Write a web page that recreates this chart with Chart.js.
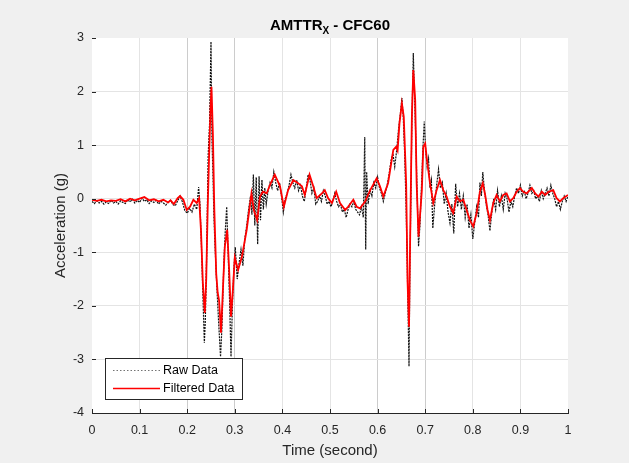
<!DOCTYPE html>
<html>
<head>
<meta charset="utf-8">
<script src="https://cdn.jsdelivr.net/npm/chart.js@4.4.1/dist/chart.umd.min.js"></script>
<style>
  html, body { margin: 0; padding: 0; background: #f0f0f0; }
  canvas { display: block; }
</style>
</head>
<body>
<canvas id="c" width="629" height="463"></canvas>
<script>
// ---------------------------------------------------------------
// DATA
// ---------------------------------------------------------------
const xTickLabels = ["0", "0.1", "0.2", "0.3", "0.4", "0.5", "0.6", "0.7", "0.8", "0.9", "1"];
const yTickLabels = ["-4", "-3", "-2", "-1", "0", "1", "2", "3"];

// filtered data (CFC60)
const filtT = [0, 0.01, 0.02, 0.03, 0.04, 0.05, 0.06, 0.07, 0.08, 0.09, 0.1, 0.11, 0.12, 0.13, 0.14, 0.15, 0.16, 0.165, 0.172, 0.18,
  0.185, 0.192, 0.199, 0.206, 0.213, 0.22, 0.225, 0.229, 0.233, 0.237, 0.24, 0.243, 0.246, 0.249, 0.251, 0.254, 0.257, 0.261, 0.264, 0.267,
  0.271, 0.275, 0.279, 0.284, 0.288, 0.292, 0.296, 0.3, 0.307, 0.315, 0.325, 0.335, 0.34, 0.347, 0.353, 0.359, 0.367, 0.374, 0.384, 0.395,
  0.403, 0.412, 0.423, 0.433, 0.441, 0.447, 0.457, 0.465, 0.472, 0.483, 0.489, 0.496, 0.504, 0.513, 0.521, 0.532, 0.538, 0.549, 0.556, 0.563,
  0.574, 0.584, 0.598, 0.605, 0.612, 0.622, 0.633, 0.639, 0.642, 0.646, 0.651, 0.655, 0.66, 0.663, 0.666, 0.669, 0.672, 0.675, 0.679, 0.682,
  0.686, 0.689, 0.693, 0.696, 0.7, 0.703, 0.71, 0.717, 0.724, 0.731, 0.738, 0.745, 0.752, 0.759, 0.766, 0.773, 0.78, 0.787, 0.794, 0.801,
  0.808, 0.815, 0.821, 0.826, 0.831, 0.836, 0.843, 0.85, 0.857, 0.864, 0.871, 0.878, 0.885, 0.892, 0.899, 0.906, 0.913, 0.924, 0.931, 0.938,
  0.945, 0.952, 0.959, 0.969, 0.976, 0.983, 0.99, 1.0];
const filtV = [-0.02, -0.04, -0.02, -0.05, -0.03, -0.04, -0.01, -0.05, 0.0, -0.03, 0.0, 0.03, -0.03, -0.01, -0.05, -0.02, -0.07, -0.03, -0.1, 0.01,
  0.05, -0.02, -0.21, -0.15, -0.02, -0.08, 0.01, -0.6, -1.6, -2.13, -1.5, -0.2, 0.8, 1.7, 2.09, 1.2, -0.2, -1.4, -1.75, -1.9,
  -2.5, -1.7, -0.9, -0.58, -1.3, -2.2, -1.7, -1.1, -1.33, -1.08, -0.58, 0.1, -0.21, -0.4, 0.04, 0.13, 0.1, 0.26, 0.45, 0.23,
  -0.15, 0.16, 0.35, 0.29, 0.23, 0.07, 0.45, 0.23, 0.01, 0.1, 0.16, 0.01, -0.08, 0.13, -0.08, -0.21, -0.15, -0.02, -0.15, -0.18,
  -0.05, 0.15, 0.38, 0.23, 0.04, 0.29, 0.91, 0.97, 0.9, 1.41, 1.78, 1.53, 0.29, -1.57, -2.39, -0.33, 1.53, 2.4, 1.84, 0.29,
  -0.71, -0.33, 0.16, 0.97, 1.03, 0.78, 0.29, -0.08, 0.16, 0.35, 0.16, 0.04, -0.15, -0.27, 0.04, -0.05, -0.02, -0.21, -0.4, -0.52,
  -0.27, 0.13, 0.29, 0.07, -0.21, -0.4, -0.08, 0.07, -0.05, 0.07, 0.1, -0.05, 0.01, 0.13, 0.2, 0.13, 0.1, 0.2, 0.1, 0.04,
  0.13, 0.07, 0.13, 0.16, 0.01, -0.05, 0.01, 0.07];

// raw data
const rawT = [0, 0.005, 0.01, 0.015, 0.02, 0.025, 0.03, 0.035, 0.04, 0.045, 0.05, 0.055, 0.06, 0.065, 0.07, 0.075, 0.08, 0.085, 0.09, 0.095,
  0.1, 0.105, 0.11, 0.115, 0.12, 0.125, 0.13, 0.135, 0.14, 0.145, 0.15, 0.155, 0.16, 0.165, 0.17, 0.175, 0.18, 0.185, 0.19, 0.195,
  0.2, 0.205, 0.21, 0.215, 0.22, 0.224, 0.227, 0.23, 0.233, 0.236, 0.238, 0.241, 0.244, 0.247, 0.25, 0.252, 0.254, 0.256, 0.258, 0.262,
  0.266, 0.27, 0.273, 0.277, 0.28, 0.283, 0.286, 0.289, 0.292, 0.295, 0.298, 0.301, 0.305, 0.309, 0.313, 0.317, 0.321, 0.325, 0.329, 0.333,
  0.336, 0.339, 0.342, 0.345, 0.348, 0.351, 0.354, 0.357, 0.36, 0.363, 0.366, 0.37, 0.374, 0.378, 0.382, 0.386, 0.39, 0.394, 0.398, 0.402,
  0.406, 0.41, 0.414, 0.418, 0.422, 0.426, 0.43, 0.434, 0.438, 0.442, 0.446, 0.45, 0.454, 0.458, 0.462, 0.466, 0.47, 0.474, 0.478, 0.482,
  0.486, 0.49, 0.494, 0.498, 0.502, 0.506, 0.51, 0.514, 0.518, 0.522, 0.526, 0.53, 0.534, 0.538, 0.542, 0.546, 0.55, 0.554, 0.558, 0.562,
  0.566, 0.57, 0.573, 0.575, 0.577, 0.58, 0.584, 0.588, 0.592, 0.596, 0.6, 0.604, 0.608, 0.612, 0.616, 0.62, 0.624, 0.628, 0.632, 0.636,
  0.64, 0.644, 0.648, 0.651, 0.654, 0.657, 0.66, 0.663, 0.666, 0.668, 0.67, 0.672, 0.675, 0.677, 0.68, 0.683, 0.686, 0.689, 0.692, 0.695,
  0.698, 0.701, 0.704, 0.707, 0.71, 0.713, 0.716, 0.72, 0.724, 0.728, 0.732, 0.736, 0.74, 0.744, 0.748, 0.752, 0.756, 0.76, 0.764, 0.768,
  0.772, 0.776, 0.78, 0.784, 0.788, 0.792, 0.796, 0.8, 0.804, 0.808, 0.812, 0.815, 0.818, 0.821, 0.824, 0.828, 0.832, 0.836, 0.84, 0.844,
  0.848, 0.852, 0.856, 0.86, 0.864, 0.868, 0.872, 0.876, 0.88, 0.884, 0.888, 0.892, 0.896, 0.9, 0.904, 0.908, 0.912, 0.916, 0.92, 0.924,
  0.928, 0.932, 0.936, 0.94, 0.944, 0.948, 0.952, 0.956, 0.96, 0.964, 0.968, 0.972, 0.976, 0.98, 0.984, 0.988, 0.992, 0.996, 1.0];
const rawV = [-0.05, -0.09, -0.04, -0.08, -0.05, -0.10, -0.06, -0.09, -0.03, -0.08, -0.05, -0.10, -0.04, -0.07, -0.09, -0.02, -0.06, -0.01, -0.08, -0.03,
  -0.07, 0.01, -0.05, -0.02, -0.09, -0.04, -0.07, -0.03, -0.10, -0.05, -0.08, -0.12, -0.06, -0.03, -0.11, -0.13, -0.04, 0.05, -0.06, -0.22,
  -0.27, -0.18, -0.25, -0.10, -0.20, 0.22, -0.12, -0.90, -1.80, -2.69, -2.30, -1.00, 0.80, 1.40, 2.93, 1.10, 0.50, -0.30, -0.80, -1.60,
  -2.30, -2.95, -2.40, -1.20, -0.60, -0.15, -1.00, -1.90, -2.95, -2.00, -1.30, -0.90, -1.50, -1.20, -0.95, -1.25, -0.75, -0.50, -0.20, 0.05,
  -0.30, 0.45, -0.50, 0.40, -0.85, 0.42, -0.40, 0.35, -0.20, 0.20, -0.10, 0.15, 0.30, 0.20, 0.50, 0.30, 0.15, 0.30, 0.05, -0.25,
  0.00, 0.10, 0.25, 0.45, 0.30, 0.20, 0.35, 0.15, 0.25, 0.05, -0.05, 0.20, 0.45, 0.35, 0.10, 0.20, -0.10, -0.05, 0.05, -0.05,
  0.15, 0.05, -0.10, -0.05, -0.15, -0.05, 0.10, -0.05, -0.15, -0.10, -0.25, -0.20, -0.35, -0.20, -0.10, -0.15, -0.05, -0.20, -0.25, -0.30,
  -0.15, -0.35, 1.15, -0.95, 0.50, -0.10, 0.15, 0.05, 0.30, 0.20, 0.40, 0.20, 0.10, -0.05, 0.10, 0.25, 0.45, 0.70, 0.85, 0.60,
  0.90, 1.30, 1.60, 1.88, 1.50, 0.80, -0.20, -1.60, -3.13, -1.20, 0.00, 1.40, 2.72, 2.10, 1.20, 0.10, -0.89, -0.50, 0.20, 0.90,
  1.44, 0.90, 0.60, 0.75, 0.20, 0.35, -0.55, -0.10, 0.25, 0.55, 0.20, 0.30, -0.10, 0.10, -0.25, -0.45, -0.10, -0.65, 0.28, -0.15,
  0.10, -0.20, 0.05, -0.35, -0.10, -0.55, -0.30, -0.75, -0.45, -0.15, -0.35, 0.30, 0.05, 0.50, 0.20, -0.10, -0.30, -0.60, -0.25, 0.00,
  -0.20, 0.15, -0.15, 0.05, -0.20, 0.10, 0.00, -0.25, -0.05, -0.15, 0.05, 0.20, 0.10, 0.25, 0.05, 0.15, 0.00, 0.10, 0.25, 0.10,
  0.15, 0.00, 0.05, -0.05, 0.15, 0.00, 0.10, 0.20, 0.05, 0.25, 0.10, 0.00, -0.15, -0.05, -0.20, -0.05, 0.05, -0.05, 0.05];

// ---------------------------------------------------------------
// STYLE
// ---------------------------------------------------------------
const FONT = '"Liberation Sans", Arial, Helvetica, sans-serif';
const AXIS = "#262626";
Chart.defaults.font.family = FONT;
Chart.defaults.color = AXIS;

// ---------------------------------------------------------------
// PLUGINS
// ---------------------------------------------------------------
const background = {
  id: "background",
  beforeDraw(chart) {
    const { ctx, chartArea: a } = chart;
    ctx.save();
    ctx.fillStyle = "#f0f0f0";
    ctx.fillRect(0, 0, chart.width, chart.height);
    ctx.fillStyle = "#ffffff";
    ctx.fillRect(a.left, a.top, a.right - a.left, a.bottom - a.top);
    ctx.restore();
  }
};

const decor = {
  id: "decor",
  afterDraw(chart) {
    const { ctx, chartArea: a, scales } = chart;
    ctx.save();

    // inward tick marks
    ctx.strokeStyle = AXIS;
    ctx.lineWidth = 1;
    ctx.beginPath();
    scales.x.ticks.forEach(t => {
      const px = Math.round(scales.x.getPixelForValue(t.value)) + 0.5;
      ctx.moveTo(px, a.bottom);
      ctx.lineTo(px, a.bottom - 4);
    });
    scales.y.ticks.forEach(t => {
      const py = Math.round(scales.y.getPixelForValue(t.value)) + 0.5;
      ctx.moveTo(a.left, py);
      ctx.lineTo(a.left + 4, py);
    });
    ctx.stroke();

    // title with subscript
    const cx = (a.left + a.right) / 2;
    ctx.fillStyle = "#000";
    ctx.textBaseline = "alphabetic";
    ctx.textAlign = "left";
    const big = "bold 15px " + FONT, small = "bold 10px " + FONT;
    ctx.font = big;
    const w1 = ctx.measureText("AMTTR").width;
    const w3 = ctx.measureText(" - CFC60").width;
    ctx.font = small;
    const w2 = ctx.measureText("X").width;
    let tx = cx - (w1 + w2 + w3) / 2;
    ctx.font = big;
    ctx.fillText("AMTTR", tx, 30);
    ctx.font = small;
    ctx.fillText("X", tx + w1, 34);
    ctx.font = big;
    ctx.fillText(" - CFC60", tx + w1 + w2, 30);

    // axis titles
    ctx.fillStyle = AXIS;
    ctx.font = "15px " + FONT;
    ctx.textAlign = "center";
    ctx.textBaseline = "middle";
    ctx.fillText("Time (second)", cx, 451);
    ctx.translate(61, (a.top + a.bottom) / 2);
    ctx.rotate(-Math.PI / 2);
    ctx.fillText("Acceleration (g)", 0, 0);
    ctx.setTransform(1, 0, 0, 1, 0, 0);

    // legend box
    const lx = 105.5, ly = 358.5, lw = 137, lh = 41;
    ctx.fillStyle = "#ffffff";
    ctx.fillRect(lx, ly, lw, lh);
    ctx.strokeStyle = AXIS;
    ctx.strokeRect(lx, ly, lw, lh);
    ctx.font = "12.5px " + FONT;
    ctx.textAlign = "left";
    ctx.fillStyle = "#000";
    ctx.lineWidth = 1;
    ctx.strokeStyle = "rgba(0,0,0,0.55)";
    ctx.setLineDash([1.5, 2]);
    ctx.beginPath();
    ctx.moveTo(113, 370.5); ctx.lineTo(160, 370.5);
    ctx.stroke();
    ctx.setLineDash([]);
    ctx.strokeStyle = "#ff0000";
    ctx.lineWidth = 1.6;
    ctx.beginPath();
    ctx.moveTo(113, 388.5); ctx.lineTo(160, 388.5);
    ctx.stroke();
    ctx.fillText("Raw Data", 163, 371);
    ctx.fillText("Filtered Data", 163, 389);

    ctx.restore();
  }
};

// ---------------------------------------------------------------
// CHART
// ---------------------------------------------------------------
const filtered = filtT.map((t, i) => ({ x: t, y: filtV[i] }));
const raw = rawT.map((t, i) => ({ x: t, y: rawV[i] }));

const darkX = [0.2, 0.3, 0.6, 0.7];

new Chart(document.getElementById("c"), {
  type: "scatter",
  data: {
    datasets: [
      {
        label: "Filtered Data",
        data: filtered,
        showLine: true,
        borderColor: "#ff0000",
        borderWidth: 1.8,
        pointRadius: 0,
        tension: 0
      },
      {
        label: "Raw Data",
        data: raw,
        showLine: true,
        borderColor: "#111111",
        borderWidth: 1.2,
        borderDash: [2, 1],
        pointRadius: 0,
        tension: 0
      }
    ]
  },
  options: {
    responsive: false,
    animation: false,
    layout: { padding: { left: 0, right: 61, top: 38, bottom: 0 } },
    plugins: {
      legend: { display: false },
      title: { display: false },
      tooltip: { enabled: false }
    },
    scales: {
      x: {
        type: "linear",
        min: 0,
        max: 1,
        afterFit(s) { s.height = 50; },
        ticks: {
          stepSize: 0.1,
          padding: 10,
          font: { size: 12.5 },
          color: AXIS,
          maxRotation: 0,
          callback: (v, i) => xTickLabels[i]
        },
        grid: {
          drawTicks: false,
          color: c => {
            const v = Math.round(c.tick.value * 10) / 10;
            if (v === 0 || v === 1) return "rgba(0,0,0,0)";
            return darkX.includes(v) ? "#cccccc" : "#e4e4e4";
          }
        },
        border: { display: true, color: AXIS, width: 1 }
      },
      y: {
        type: "linear",
        min: -4,
        max: 3,
        afterFit(s) { s.width = 92; },
        ticks: {
          stepSize: 1,
          padding: 8,
          font: { size: 12.5 },
          color: AXIS,
          callback: (v, i) => yTickLabels[i]
        },
        grid: {
          drawTicks: false,
          color: c => (c.tick.value === 3 || c.tick.value === -4) ? "rgba(0,0,0,0)" : "#e4e4e4"
        },
        border: { display: false }
      }
    }
  },
  plugins: [background, decor]
});
</script>
</body>
</html>
